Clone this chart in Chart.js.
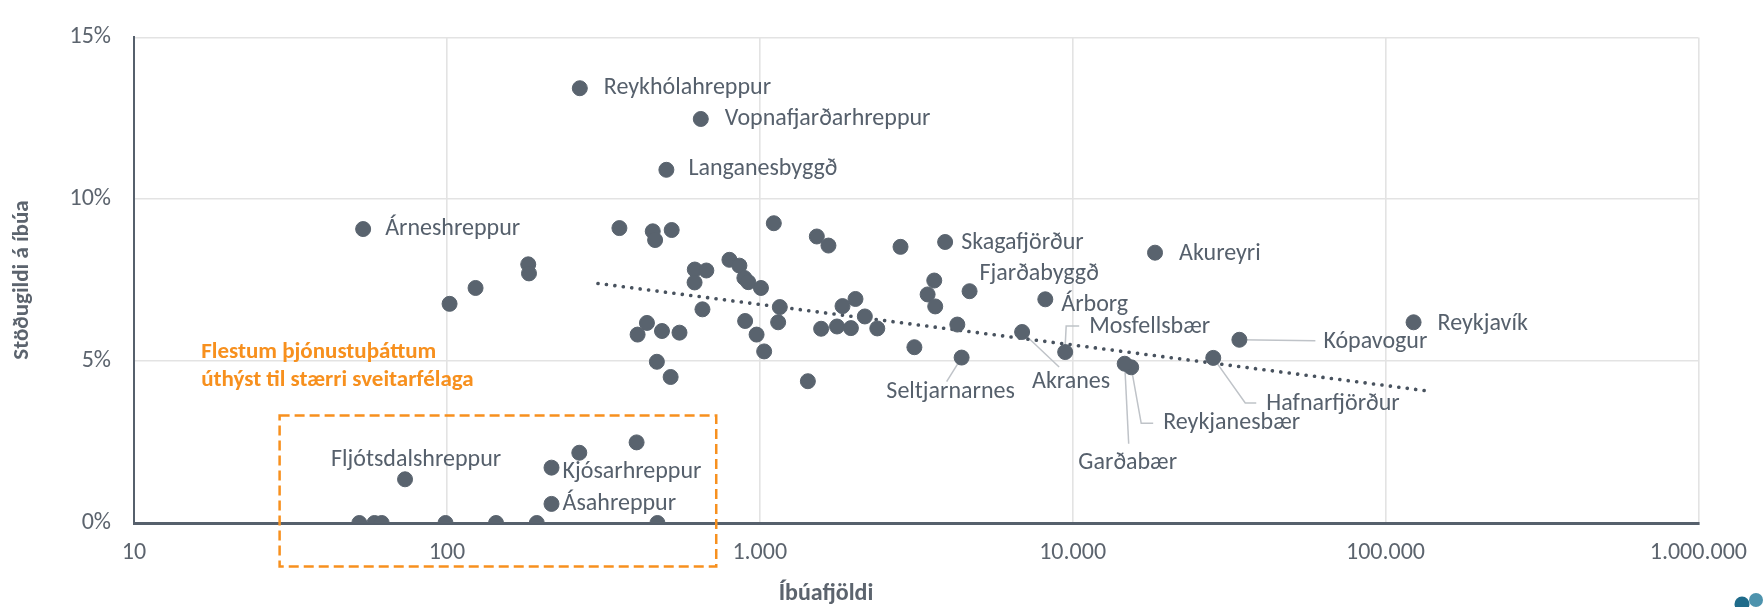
<!DOCTYPE html>
<html>
<head>
<meta charset="utf-8">
<script src="https://cdn.jsdelivr.net/npm/chart.js@4.4.1/dist/chart.umd.min.js"></script>
<style>
  html, body { margin: 0; padding: 0; background: #fff; }
  #wrap { width: 1763px; height: 607px; position: relative; }
</style>
</head>
<body>
<div id="wrap"><canvas id="chart"></canvas></div>
<script>
// municipalities: name ('' = no label), population, FTE share per inhabitant (%)
const MUNI_NAMES = [
  'Reykhólahreppur', 'Vopnafjarðarhreppur', 'Langanesbyggð', 'Árneshreppur',
  'Skagafjörður', 'Fjarðabyggð', 'Árborg', 'Mosfellsbær', 'Akureyri',
  'Kópavogur', 'Reykjavík', 'Hafnarfjörður', 'Reykjanesbær', 'Garðabær',
  'Akranes', 'Seltjarnarnes', 'Fljótsdalshreppur', 'Kjósarhreppur', 'Ásahreppur',
  '', '', '', '', '', '', '', '', '', '',
  '', '', '', '', '', '', '', '', '', '',
  '', '', '', '', '', '', '', '', '', '',
  '', '', '', '', '', '', '', '', '', '',
  '', '', '', '', '', '', '', '', '', '',
  '', ''
];
const MUNI_POP = [
  266, 648, 503, 54,
  3913, 4684, 8179, 9467, 18340,
  34120, 122950, 28150, 15390, 14670,
  6896, 4418, 73.5, 216, 216,
  102, 123.5, 182, 183, 356, 455, 463, 523, 800, 620,
  675, 619, 656, 436, 407, 487, 554, 469, 519, 1109,
  861, 893, 919, 1009, 898, 977, 1033, 1159, 1145, 1425,
  1522, 1658, 1571, 1766, 1956, 1839, 2023, 2167, 2375, 2818,
  3612, 3440, 3638, 3121, 4281, 265, 404, 52.5, 58.7, 61.9,
  99, 143.6, 193.8, 471
];
const MUNI_SHARE = [
  13.43, 12.48, 10.91, 9.08,
  8.68, 7.16, 6.91, 5.28, 8.35,
  5.66, 6.20, 5.10, 4.81, 4.92,
  5.90, 5.11, 1.35, 1.71, 0.59,
  6.77, 7.26, 7.99, 7.71, 9.11, 9.01, 8.74, 9.05, 8.13, 7.83,
  7.80, 7.43, 6.60, 6.18, 5.82, 5.93, 5.88, 4.98, 4.51, 9.26,
  7.95, 7.57, 7.44, 7.26, 6.24, 5.82, 5.30, 6.67, 6.20, 4.38,
  8.85, 8.57, 6.00, 6.07, 6.02, 6.70, 6.92, 6.38, 6.01, 8.53,
  7.49, 7.06, 6.69, 5.43, 6.13, 2.17, 2.49, 0, 0, 0,
  0, 0, 0, 0
];

// logarithmic trend line, start and end
const TREND_POP = [304, 136000];
const TREND_SHARE = [7.40, 4.08];

const X_TICKS = [10, 100, 1000, 10000, 100000, 1000000];
const X_TICK_LABELS = ['10', '100', '1.000', '10.000', '100.000', '1.000.000'];
const Y_TICKS = [0, 5, 10, 15];
const Y_TICK_LABELS = ['0%', '5%', '10%', '15%'];

const X_TITLE = 'Íbúafjöldi';
const Y_TITLE = 'Stöðugildi á íbúa';
const NOTE_LINES = ['Flestum þjónustuþáttum', 'úthýst til stærri sveitarfélaga'];

const FONT = "Carlito, Lato, 'Open Sans', sans-serif";
const DOT = '#59636e';
const LABEL_COLOR = '#56606c';
const TICK_COLOR = '#5c646e';
const ORANGE = '#f7901e';
const LEADER = '#bfc3c8';

// label placement relative to the point (pixels)
const LABEL_LAYOUT = {
  'Reykhólahreppur':     { dx: 24, dy: 0 },
  'Vopnafjarðarhreppur': { dx: 24, dy: 0 },
  'Langanesbyggð':       { dx: 22, dy: -1 },
  'Árneshreppur':        { dx: 22, dy: 0 },
  'Skagafjörður':        { dx: 16, dy: 1 },
  'Fjarðabyggð':         { dx: 10, dy: -17 },
  'Árborg':              { dx: 16, dy: 6 },
  'Mosfellsbær':         { dx: 24, dy: -25, leader: [[0, -6], [1, -26], [14, -26]] },
  'Akureyri':            { dx: 24, dy: 1 },
  'Kópavogur':           { dx: 84, dy: 2, leader: [[0, 0], [76, 1]] },
  'Reykjavík':           { dx: 24, dy: 2 },
  'Hafnarfjörður':       { dx: 53, dy: 46, leader: [[0, 0], [32, 45], [43, 45]] },
  'Reykjanesbær':        { dx: 32, dy: 56, leader: [[0, 0], [10, 56], [22, 56]] },
  'Garðabær':            { dx: 3, dy: 99, center: true, leader: [[0, 0], [4, 80]] },
  'Akranes':             { dx: 49, dy: 50, center: true, leader: [[0, 0], [37, 35]] },
  'Seltjarnarnes':       { dx: -11, dy: 34, center: true, leader: [[0, 0], [-15, 24]] },
  'Fljótsdalshreppur':   { dx: 11, dy: -19, center: true },
  'Kjósarhreppur':       { dx: 11, dy: 4 },
  'Ásahreppur':          { dx: 11, dy: 0 },
};

var labelPlugin = {
  id: 'pointLabels',
  beforeDatasetsDraw: function(chart) {
    var meta = chart.getDatasetMeta(0);
    var ctx = chart.ctx;
    ctx.save();
    ctx.strokeStyle = LEADER;
    ctx.lineWidth = 1.5;
    MUNI_NAMES.forEach(function(name, i) {
      var lay = LABEL_LAYOUT[name];
      if (!name || !lay || !lay.leader) return;
      var p = meta.data[i];
      ctx.beginPath();
      lay.leader.forEach(function(pt, k) {
        if (k === 0) ctx.moveTo(p.x + pt[0], p.y + pt[1]);
        else ctx.lineTo(p.x + pt[0], p.y + pt[1]);
      });
      ctx.stroke();
    });
    ctx.restore();
  },
  afterDatasetsDraw: function(chart) {
    var meta = chart.getDatasetMeta(0);
    var ctx = chart.ctx;
    ctx.save();
    ctx.font = '24px ' + FONT;
    ctx.fillStyle = LABEL_COLOR;
    ctx.textBaseline = 'middle';
    MUNI_NAMES.forEach(function(name, i) {
      var lay = LABEL_LAYOUT[name];
      if (!name || !lay) return;
      var p = meta.data[i];
      ctx.textAlign = lay.center ? 'center' : 'left';
      ctx.fillText(name, p.x + lay.dx, p.y + lay.dy);
    });
    ctx.restore();
  },
};

var decorPlugin = {
  id: 'decor',
  afterDraw: function(chart) {
    var ctx = chart.ctx;
    var xs = chart.scales.x, ys = chart.scales.y;
    ctx.save();

    // axis titles
    ctx.fillStyle = TICK_COLOR;
    ctx.font = 'bold 24px ' + FONT;
    ctx.textAlign = 'center';
    ctx.textBaseline = 'middle';
    ctx.fillText(X_TITLE, 826, 594);
    ctx.font = 'bold 23px ' + FONT;
    ctx.translate(22, 280);
    ctx.rotate(-Math.PI / 2);
    ctx.fillText(Y_TITLE, 0, 0);
    ctx.setTransform(1, 0, 0, 1, 0, 0);

    // orange note + dashed box around the small municipalities
    ctx.fillStyle = ORANGE;
    ctx.font = 'bold 23px ' + FONT;
    ctx.textAlign = 'left';
    var nx = xs.getPixelForValue(16.4);
    ctx.fillText(NOTE_LINES[0], nx, ys.getPixelForValue(5.27));
    ctx.fillText(NOTE_LINES[1], nx, ys.getPixelForValue(4.41));

    var bx0 = xs.getPixelForValue(29.2), bx1 = xs.getPixelForValue(726);
    var by0 = ys.getPixelForValue(3.32), by1 = ys.getPixelForValue(-1.34);
    ctx.strokeStyle = ORANGE;
    ctx.lineWidth = 2.5;
    ctx.setLineDash([10, 5]);
    ctx.strokeRect(bx0, by0, bx1 - bx0, by1 - by0);
    ctx.setLineDash([]);

    // logo corner
    ctx.fillStyle = '#4d93ad';
    ctx.beginPath(); ctx.arc(1756, 600, 7, 0, Math.PI * 2); ctx.fill();
    ctx.fillStyle = '#1f6b8a';
    ctx.beginPath(); ctx.arc(1742, 604, 7.5, 0, Math.PI * 2); ctx.fill();
    ctx.restore();
  },
};

function initChart() {
  var points = MUNI_POP.map(function(p, i) { return { x: p, y: MUNI_SHARE[i] }; });
  var trend = TREND_POP.map(function(p, i) { return { x: p, y: TREND_SHARE[i] }; });

  new Chart(document.getElementById('chart'), {
    type: 'scatter',
    data: {
      datasets: [
        {
          label: 'Sveitarfélög',
          data: points,
          backgroundColor: DOT,
          borderColor: DOT,
          pointRadius: 7.5,
          pointHoverRadius: 7.5,
          order: 1,
        },
        {
          label: 'Leitni',
          type: 'line',
          data: trend,
          borderColor: '#48525e',
          borderWidth: 3.6,
          borderDash: [0.1, 8.4],
          borderCapStyle: 'round',
          pointRadius: 0,
          fill: false,
          order: 2,
        },
      ],
    },
    options: {
      responsive: true,
      maintainAspectRatio: false,
      animation: false,
      layout: { padding: { left: 0, top: 19, right: 52, bottom: 0 } },
      scales: {
        x: {
          type: 'logarithmic',
          min: 10,
          max: 1000000,
          afterBuildTicks: function(scale) {
            scale.ticks = X_TICKS.map(function(v) { return { value: v }; });
          },
          afterFit: function(scale) { scale.height = 84; },
          grid: { color: '#e3e3e3', lineWidth: 1.6, drawTicks: false },
          border: { color: '#56606c', width: 3 },
          ticks: {
            padding: 16,
            color: TICK_COLOR,
            font: { family: FONT, size: 24 },
            maxRotation: 0,
            autoSkip: false,
            callback: function(v, i) { return X_TICK_LABELS[i]; },
          },
        },
        y: {
          min: 0,
          max: 15,
          afterBuildTicks: function(scale) {
            scale.ticks = Y_TICKS.map(function(v) { return { value: v }; });
          },
          afterFit: function(scale) { scale.width = 134; },
          grid: { color: '#e3e3e3', lineWidth: 1.6, drawTicks: false },
          border: { color: '#56606c', width: 2 },
          ticks: {
            padding: 23,
            color: TICK_COLOR,
            font: { family: FONT, size: 24 },
            callback: function(v, i) { return Y_TICK_LABELS[i]; },
          },
        },
      },
      plugins: {
        legend: { display: false },
        tooltip: { enabled: false },
      },
    },
    plugins: [labelPlugin, decorPlugin],
  });
}

initChart();
</script>
</body>
</html>
